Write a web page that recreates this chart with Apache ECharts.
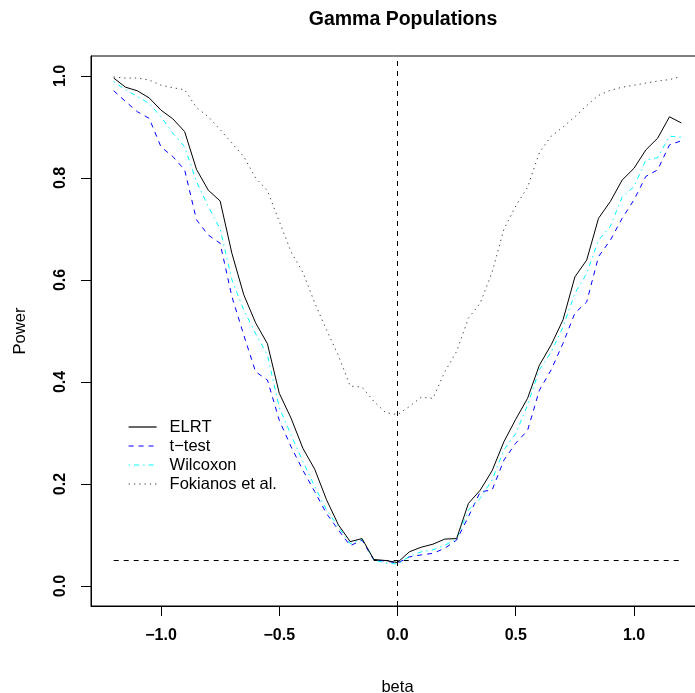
<!DOCTYPE html>
<html>
<head>
<meta charset="utf-8">
<script src="https://cdn.jsdelivr.net/npm/echarts@6/dist/echarts.min.js"></script>
<style>
html,body{margin:0;padding:0;background:#fff;}
#c{width:695px;height:693px;}
</style>
</head>
<body>
<div id="c"></div>
<script>
var betas = [-1.2,-1.15,-1.1,-1.05,-1.0,-0.95,-0.9,-0.85,-0.8,-0.75,-0.7,-0.65,-0.6,-0.55,-0.5,-0.45,-0.4,-0.35,-0.3,-0.25,-0.2,-0.15,-0.1,-0.05,0,0.05,0.1,0.15,0.2,0.25,0.3,0.35,0.4,0.45,0.5,0.55,0.6,0.65,0.7,0.75,0.8,0.85,0.9,0.95,1.0,1.05,1.1,1.15,1.2];

var elrt = [0.996,0.978,0.971,0.957,0.933,0.916,0.891,0.817,0.776,0.755,0.652,0.571,0.516,0.475,0.378,0.329,0.270,0.229,0.169,0.120,0.087,0.093,0.052,0.050,0.046,0.067,0.076,0.082,0.092,0.093,0.162,0.188,0.226,0.283,0.327,0.368,0.433,0.473,0.522,0.606,0.639,0.721,0.754,0.796,0.819,0.855,0.878,0.920,0.908];

var ttest = [0.971,0.950,0.930,0.917,0.861,0.842,0.816,0.718,0.688,0.672,0.567,0.492,0.420,0.404,0.325,0.273,0.227,0.185,0.142,0.110,0.079,0.090,0.051,0.049,0.045,0.057,0.061,0.064,0.074,0.090,0.136,0.185,0.188,0.247,0.280,0.305,0.384,0.424,0.476,0.535,0.557,0.646,0.678,0.721,0.757,0.803,0.816,0.865,0.873];

var wilcoxon = [0.989,0.973,0.960,0.946,0.920,0.888,0.861,0.793,0.744,0.700,0.600,0.541,0.495,0.453,0.350,0.296,0.244,0.195,0.149,0.116,0.083,0.092,0.051,0.045,0.043,0.058,0.067,0.071,0.080,0.092,0.149,0.172,0.208,0.267,0.299,0.355,0.424,0.459,0.508,0.574,0.613,0.678,0.705,0.763,0.783,0.835,0.840,0.882,0.880];

var fokianos = [0.998,0.996,0.996,0.992,0.982,0.977,0.973,0.938,0.920,0.895,0.868,0.842,0.800,0.775,0.715,0.655,0.615,0.555,0.502,0.452,0.392,0.390,0.362,0.340,0.336,0.352,0.370,0.368,0.420,0.460,0.525,0.555,0.615,0.700,0.745,0.782,0.850,0.882,0.900,0.920,0.942,0.962,0.972,0.978,0.982,0.986,0.990,0.993,0.999];

var seriesNames = ['ELRT','t\u2212test','Wilcoxon','Fokianos et al.'];
var xTicks = [-1.0,-0.5,0.0,0.5,1.0];
var yTicks = [0.0,0.2,0.4,0.6,0.8,1.0];
var alphaLevel = [0.05,0.05];
var alphaRange = [-1.2,1.2];
var nullBeta = 0;

function pairs(vals){ return betas.map(function(b,i){ return [b, vals[i]]; }); }
function fmt(v){ var s = Math.abs(v).toFixed(1); return (v < 0 ? '\u2212' : '') + s; }

var FONT = 'Liberation Sans, Arial, Helvetica, sans-serif';
var styles = [
  {color: '#000', type: 'solid'},
  {color: '#0000ff', type: [5,5]},
  {color: '#00ffff', type: [1.5,4,5,4]},
  {color: '#444', type: [1.3,4]}
];
var chart = echarts.init(document.getElementById('c'), null, {renderer:'canvas'});

chart.setOption({
  animation: false,
  backgroundColor: '#fff',
  title: {
    text: 'Gamma Populations',
    left: 398, top: 5, textAlign: 'center',
    textStyle: {fontFamily: FONT, fontWeight: 'bold', fontSize: 19.5, color: '#000'}
  },
  legend: {
    data: seriesNames.map(function(n, i){
      return {name: n, itemStyle: {opacity: 0},
        lineStyle: {color: styles[i].color, type: styles[i].type, width: 1.2, opacity: 1}};
    }),
    orient: 'vertical',
    left: 128, top: 418.5, padding: 0,
    itemWidth: 28, itemHeight: 14, itemGap: 2,
    textStyle: {fontFamily: FONT, fontSize: 16.5, color: '#000', padding: [0,0,0,8]},
    inactiveColor: '#000'
  },
  grid: {
    left: 91, top: 56, width: 613, height: 550,
    outerBoundsMode: 'none', containLabel: false,
    show: true, borderColor: '#000', borderWidth: 1, backgroundColor: 'transparent'
  },
  xAxis: {
    type: 'value', min: -1.296, max: 1.296,
    name: 'beta', nameLocation: 'middle', nameGap: 73,
    nameTextStyle: {fontFamily: FONT, fontSize: 16.5, color: '#000'},
    axisLine: {show: true, onZero: false, lineStyle: {color: '#000', width: 1}},
    axisTick: {show: true, inside: false, length: 10, customValues: xTicks, lineStyle: {color: '#000', width: 1}},
    axisLabel: {show: true, customValues: xTicks, margin: 22, formatter: fmt,
      fontFamily: FONT, fontWeight: 'bold', fontSize: 16, color: '#000'},
    splitLine: {show: false}
  },
  yAxis: {
    type: 'value', min: -0.0392, max: 1.0392,
    name: 'Power', nameLocation: 'middle', nameGap: 62, nameRotate: 90,
    nameTextStyle: {fontFamily: FONT, fontSize: 16.5, color: '#000'},
    axisLine: {show: true, onZero: false, lineStyle: {color: '#000', width: 1}},
    axisTick: {show: true, inside: false, length: 10, customValues: yTicks, lineStyle: {color: '#000', width: 1}},
    axisLabel: {show: true, customValues: yTicks, margin: 22, rotate: 90, formatter: fmt,
      fontFamily: FONT, fontWeight: 'bold', fontSize: 16, color: '#000'},
    splitLine: {show: false}
  },
  series: [
    {name: seriesNames[0], type: 'line', data: pairs(elrt), symbol: 'none', z: 5,
      lineStyle: {color: styles[0].color, width: 1, type: styles[0].type}, itemStyle: {color: styles[0].color}},
    {name: seriesNames[1], type: 'line', data: pairs(ttest), symbol: 'none', z: 4,
      lineStyle: {color: styles[1].color, width: 1, type: styles[1].type}, itemStyle: {color: styles[1].color}},
    {name: seriesNames[2], type: 'line', data: pairs(wilcoxon), symbol: 'none', z: 4,
      lineStyle: {color: styles[2].color, width: 1, type: styles[2].type}, itemStyle: {color: styles[2].color}},
    {name: seriesNames[3], type: 'line', data: pairs(fokianos), symbol: 'none', z: 4,
      lineStyle: {color: styles[3].color, width: 1, type: styles[3].type}, itemStyle: {color: styles[3].color}},
    {name: 'alpha', type: 'line', data: [[alphaRange[0], alphaLevel[0]], [alphaRange[1], alphaLevel[1]]], symbol: 'none', z: 3,
      lineStyle: {color: '#000', width: 1, type: [5,5]}, silent: true,
      markLine: {silent: true, symbol: 'none', label: {show: false},
        lineStyle: {color: '#000', width: 1, type: [5,5]},
        data: [{xAxis: nullBeta}]}}
  ]
});
</script>
</body>
</html>
